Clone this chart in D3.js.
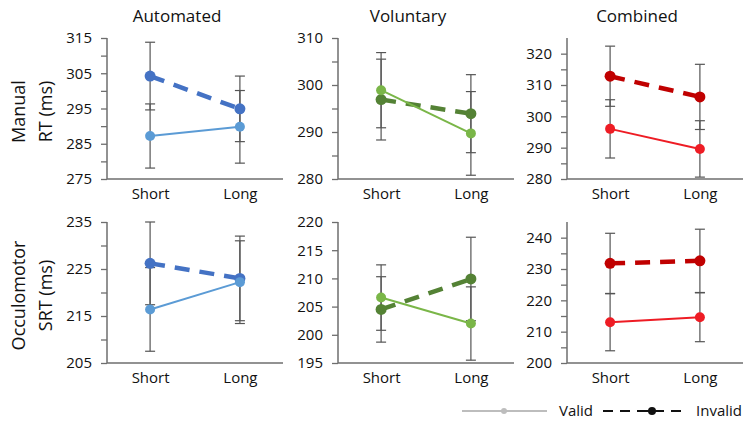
<!DOCTYPE html>
<html>
<head>
<meta charset="utf-8">
<script src="https://cdn.jsdelivr.net/npm/d3@7"></script>
<style>
  html, body { margin: 0; padding: 0; background: #fff; }
  svg { display: block; font-family: "Open Sans", "Noto Sans", sans-serif; }
</style>
</head>
<body>
<svg id="chart" width="751" height="425"></svg>
<script>
// ---- data ----
const panelTitles = ["Automated", "Voluntary", "Combined"];
const rowLabels = [["Manual", "RT (ms)"], ["Occulomotor", "SRT (ms)"]];
const categories = ["Short", "Long"];

const manualValidMean   = [[287.2, 289.8], [298.9, 289.7], [296.0, 289.6]];
const manualValidErr    = [[9.1, 10.3], [8.0, 8.9], [9.3, 9.0]];
const manualInvalidMean = [[304.2, 294.9], [296.9, 293.9], [312.8, 306.2]];
const manualInvalidErr  = [[9.6, 9.3], [8.6, 8.3], [9.6, 10.4]];

const occValidMean   = [[216.4, 222.2], [206.6, 202.0], [213.0, 214.6]];
const occValidErr    = [[8.9, 8.8], [5.8, 6.5], [9.1, 7.8]];
const occInvalidMean = [[226.2, 223.0], [204.5, 209.9], [231.8, 232.6]];
const occInvalidErr  = [[8.8, 9.0], [5.8, 7.4], [9.6, 10.1]];

const manualDomains = [[275, 315], [280, 310], [280, 325]];
const occDomains    = [[205, 235], [195, 220], [200, 245]];
const manualLabelStep = [10, 10, 10];
const occLabelStep    = [10, 5, 10];

const validColors   = ["#5b9bd5", "#7ab648", "#ee1c24"];
const invalidColors = ["#4472c4", "#548235", "#c00000"];

const legendLabels = ["Valid", "Invalid"];

// ---- layout ----
const svg = d3.select("#chart");
const axisX = [107, 338, 567];
const panelW = 176;
const rowTop = [38, 222];
const panelH = 141;
const axisColor = "#6e6e6e";
const errColor = "#555";

const rowsData = [
  { vm: manualValidMean, ve: manualValidErr, im: manualInvalidMean, ie: manualInvalidErr, dom: manualDomains, step: manualLabelStep },
  { vm: occValidMean, ve: occValidErr, im: occInvalidMean, ie: occInvalidErr, dom: occDomains, step: occLabelStep }
];

// titles
panelTitles.forEach((t, i) => {
  svg.append("text")
    .attr("x", axisX[i] + panelW / 2 - 18)
    .attr("y", 22)
    .attr("text-anchor", "middle")
    .attr("font-size", 17)
    .attr("fill", "#111")
    .text(t);
});

// row labels
rowLabels.forEach((lines, r) => {
  const cy = rowTop[r] + panelH / 2 + 3;
  const g = svg.append("g").attr("transform", `translate(0,${cy}) rotate(-90)`);
  lines.forEach((l, k) => {
    g.append("text")
      .attr("x", 0)
      .attr("y", 25 + k * 27)
      .attr("text-anchor", "middle")
      .attr("font-size", 18)
      .attr("fill", "#111")
      .text(l);
  });
});

rowsData.forEach((rd, r) => {
  for (let p = 0; p < 3; p++) {
    const g = svg.append("g").attr("transform", `translate(${axisX[p]},${rowTop[r]})`);
    const dom = rd.dom[p];
    const y = d3.scaleLinear().domain(dom).range([panelH, 0]);
    const x = d3.scalePoint().domain(categories).range([0, panelW]).padding(0.48);
    const labelStep = rd.step[p];
    const lastLabel = dom[0] + Math.floor((dom[1] - dom[0]) / labelStep) * labelStep;
    const tickVals = d3.range(dom[0], lastLabel + 0.001, 5);

    // y axis
    const yAxis = d3.axisLeft(y)
      .tickValues(tickVals)
      .tickSize(6)
      .tickPadding(9)
      .tickFormat(d => ((d - dom[0]) % labelStep === 0 ? d3.format("d")(d) : ""));
    const ya = g.append("g").call(yAxis);
    ya.select(".domain").remove();
    ya.selectAll(".tick line").attr("stroke", axisColor).attr("stroke-width", 1.3);
    ya.selectAll(".tick text").attr("font-size", 15).attr("fill", "#111")
      .attr("font-family", "'Open Sans', sans-serif");
    g.append("line").attr("x1", 0).attr("x2", 0).attr("y1", 0).attr("y2", panelH)
      .attr("stroke", axisColor).attr("stroke-width", 1.5);

    // x axis
    const xAxis = d3.axisBottom(x).tickSize(0).tickPadding(9);
    const xa = g.append("g").attr("transform", `translate(0,${panelH})`).call(xAxis);
    xa.select(".domain").remove();
    xa.selectAll(".tick text").attr("font-size", 15).attr("fill", "#111")
      .attr("font-family", "'Open Sans', sans-serif");
    g.append("line").attr("x1", 0).attr("x2", panelW).attr("y1", panelH).attr("y2", panelH)
      .attr("stroke", axisColor).attr("stroke-width", 1.5);

    const series = [
      { mean: rd.im[p], err: rd.ie[p], color: invalidColors[p], dashed: true },
      { mean: rd.vm[p], err: rd.ve[p], color: validColors[p], dashed: false }
    ];

    // error bars
    series.forEach(s => {
      categories.forEach((c, i) => {
        const cx = x(c);
        const lo = y(s.mean[i] - s.err[i]);
        const hi = y(s.mean[i] + s.err[i]);
        g.append("line").attr("x1", cx).attr("x2", cx).attr("y1", lo).attr("y2", hi)
          .attr("stroke", errColor).attr("stroke-width", 1.2);
        [lo, hi].forEach(yy => {
          g.append("line").attr("x1", cx - 5).attr("x2", cx + 5).attr("y1", yy).attr("y2", yy)
            .attr("stroke", errColor).attr("stroke-width", 1.2);
        });
      });
    });

    // lines and dots
    const line = d3.line().x((d, i) => x(categories[i])).y(d => y(d));
    series.forEach(s => {
      g.append("path").datum(s.mean)
        .attr("d", line)
        .attr("fill", "none")
        .attr("stroke", s.color)
        .attr("stroke-width", s.dashed ? 4.5 : 2)
        .attr("stroke-dasharray", s.dashed ? "15,10" : null);
      g.selectAll(null).data(s.mean).enter().append("circle")
        .attr("cx", (d, i) => x(categories[i]))
        .attr("cy", d => y(d))
        .attr("r", s.dashed ? 5.5 : 5)
        .attr("fill", s.color);
    });
  }
});

// legend
const lg = svg.append("g").attr("transform", "translate(0,411)");
lg.append("line").attr("x1", 462).attr("x2", 547).attr("y1", 0).attr("y2", 0)
  .attr("stroke", "#bdbdbd").attr("stroke-width", 2);
lg.append("circle").attr("cx", 504).attr("cy", 0).attr("r", 3).attr("fill", "#bdbdbd");
lg.append("text").attr("x", 559).attr("y", 5).attr("font-size", 15).attr("fill", "#111").text(legendLabels[0]);
lg.append("line").attr("x1", 603).attr("x2", 681).attr("y1", 0).attr("y2", 0)
  .attr("stroke", "#111").attr("stroke-width", 2).attr("stroke-dasharray", "10,7");
lg.append("line").attr("x1", 638).attr("x2", 663).attr("y1", 0).attr("y2", 0)
  .attr("stroke", "#111").attr("stroke-width", 2);
lg.append("circle").attr("cx", 652).attr("cy", 0).attr("r", 4).attr("fill", "#111");
lg.append("text").attr("x", 696).attr("y", 5).attr("font-size", 15).attr("fill", "#111").text(legendLabels[1]);
</script>
</body>
</html>
